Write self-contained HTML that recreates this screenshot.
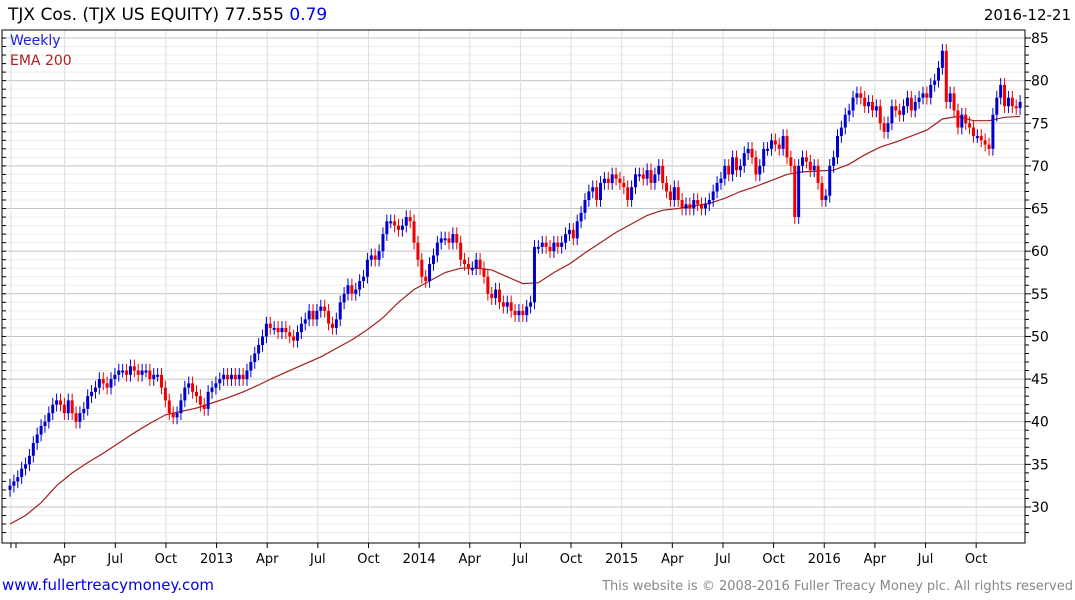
<!DOCTYPE html>
<html><head><meta charset="utf-8"><style>
body{margin:0;background:#fff;width:1075px;height:600px;overflow:hidden;font-family:"Liberation Sans","DejaVu Sans",sans-serif}
svg{display:block}
</style></head><body>
<svg id="chart" width="1075" height="600" font-family="DejaVu Sans, Liberation Sans, sans-serif">
<text x="8" y="20" font-size="17" fill="#000">TJX Cos. (TJX US EQUITY) 77.555 <tspan fill="#0000ee">0.79</tspan></text>
<text x="1071" y="20" font-size="15" text-anchor="end" fill="#000">2016-12-21</text>
<g id="grid"></g>
<g id="ema"></g>
<g id="candles"></g>
<g id="axes"></g>
<text x="10" y="45" font-size="14" fill="#2222dd">Weekly</text>
<text x="10" y="65" font-size="14" fill="#aa2222">EMA 200</text>
<text x="2" y="590" font-size="15" fill="#0000ee">www.fullertreacymoney.com</text>
<text x="1073" y="590" font-size="13" text-anchor="end" fill="#888">This website is © 2008-2016 Fuller Treacy Money plc. All rights reserved</text>
</svg>
<script>
const closes = [
32.5,33,33.5,34.5,35,36,37.5,38.5,39.5,40,41,42,42.5,
42,41,42.5,41,40,41,41.5,43,43.5,44,45,44.5,44,
45,45.5,46,46,45.5,46.5,46,45.5,46,46,45,45.5,45.5,
44,42.5,41,40.5,41,42.5,44,44.5,43.5,43,42,41.5,43.5,
44,44.5,45,45.5,45,45.5,45,45.5,45,46,47,48,49,
50,51.5,51,51,50.5,51,50.5,50,49.5,50.5,51.5,52,53,
52,53,53.5,53,51.5,51,52,54,55,56,55,55.5,56.5,
57,59,59.5,59,60,62,63.5,63.5,63,62.5,63,64,63.5,
61,59,57,56.5,58.5,59.5,61,61.5,61.5,61,62,61,59,
58.5,58,58,59,58,57,55,54.5,55.5,54,53.5,54,53,
52.5,53,52.5,53.5,54,60.5,60.5,61,60.5,60,61,60.5,61,
62,62.5,61.5,63.5,64.5,66,67,67.5,66,68,68.5,68,69,
68.5,68,67.5,66,67.5,69,69,68.5,69.5,68,69,70,68,
67,66,67.5,66,65,65.5,65,66,65.5,65,65.5,66,67,
68,68.5,70,69,71,69.5,70,71.5,72,71,69,70,72,
72,73,72.5,72,73.5,71,70,64,70,71,70.5,69.5,70,
68,66,66.5,70,71,73.5,74.5,76,76.5,78,78.5,78,77,
77.5,76.5,77,75,74,75,77,76.5,76,77,78,
76.5,77.5,78,78.5,
78,79.5,80,81.5,83.5,
77.5,78.5,76.5,74.5,76,75,74.5,73.5,73.5,73,72.5,72,76,78,79.5,77,78,77,76.8,77.5
];
const firstOpen = 32;
const emaValues = [28,29,30.5,32.5,34,35.2,36.3,37.5,38.7,39.8,40.8,41.2,41.6,42.2,42.8,43.5,44.3,45.2,46,46.8,47.6,48.6,49.6,50.8,52.2,54,55.5,56.5,57.5,58,58,57.8,57,56.2,56.3,57.5,58.5,59.8,61,62.2,63.2,64.2,64.8,65,65.3,65.6,66.2,67,67.6,68.3,69,69.3,69.4,69.5,70.2,71.3,72.2,72.8,73.5,74.2,75.5,75.8,75.3,75.3,75.7,75.8];
const emaStep = 4;
const yTicks = [30,35,40,45,50,55,60,65,70,75,80,85];
const xLabels = ["Apr","Jul","Oct","2013","Apr","Jul","Oct","2014","Apr","Jul","Oct","2015","Apr","Jul","Oct","2016","Apr","Jul","Oct"];
const xLabelMonths = [3,6,9,12,15,18,21,24,27,30,33,36,39,42,45,48,51,54,57];

const NS="http://www.w3.org/2000/svg";
const L=2,R=1025,T=30,B=543;
function y(p){return 38+(85-p)*8.527;}
function wx(i){return 10+i*3.885;}
function mx(m){return 14+m*16.88;}
function mk(tag,attrs,parent){const e=document.createElementNS(NS,tag);for(const k in attrs)e.setAttribute(k,attrs[k]);parent.appendChild(e);return e;}
const grid=document.getElementById('grid'),axes=document.getElementById('axes'),cg=document.getElementById('candles'),eg=document.getElementById('ema');
for(let p=27;p<=86;p++){const yy=y(p);if(yy<T||yy>B)continue;
 const ln=mk('line',{x1:L,x2:R,y1:yy,y2:yy,stroke:p%5===0?'#c4c4c4':'#ececec','stroke-width':1},grid);
 
 
 mk('line',{x1:L,x2:L+4,y1:yy,y2:yy,stroke:'#000'},axes);
 mk('line',{x1:R,x2:R+(p%5===0?6:4),y1:yy,y2:yy,stroke:'#000'},axes);
}
mk('line',{x1:11,x2:11,y1:T,y2:B,stroke:'#dcdcdc'},grid);
xLabelMonths.forEach((m,k)=>{const xx=mx(m);
 const ln=mk('line',{x1:xx,x2:xx,y1:T,y2:B,stroke:'#dcdcdc'},grid);
 
 
 mk('line',{x1:xx,x2:xx,y1:B,y2:B+5,stroke:'#000'},axes);
 const t=mk('text',{x:xx,y:563,'font-size':13,'text-anchor':'middle',fill:'#000'},axes);
 t.textContent=xLabels[k];
 
 
});
mk('line',{x1:11,x2:11,y1:B,y2:B+5,stroke:'#000'},axes);
mk('line',{x1:16,x2:16,y1:B,y2:B+5,stroke:'#000'},axes);
mk('rect',{x:L,y:T,width:R-L,height:B-T,fill:'none',stroke:'#000','stroke-width':1},axes);
yTicks.forEach(v=>{const t=mk('text',{x:1031,y:y(v)+5,'font-size':14,fill:'#000'},axes);t.textContent=v;
 
 });
let pts=emaValues.map((v,k)=>wx(k*emaStep).toFixed(1)+','+y(v).toFixed(1)).join(' ');
const pl=mk('polyline',{points:pts,fill:'none',stroke:'#a02020','stroke-width':1.2},eg);


closes.forEach((c,i)=>{const o=i===0?firstOpen:closes[i-1];const up=c>=o;const col=up?'#0000cc':'#ee0000';
 const xx=wx(i);const hi=Math.max(o,c)+0.8,lo=Math.min(o,c)-0.8;
 const g=mk('g',{},cg);
 
 
 mk('line',{x1:xx,x2:xx,y1:y(hi),y2:y(lo),stroke:col,'stroke-width':1},g);
 const top=y(Math.max(o,c)),h=Math.max(2,y(Math.min(o,c))-top);
 mk('rect',{x:xx-1.5,y:top,width:3,height:h,fill:col},g);
});
</script>
</body></html>
